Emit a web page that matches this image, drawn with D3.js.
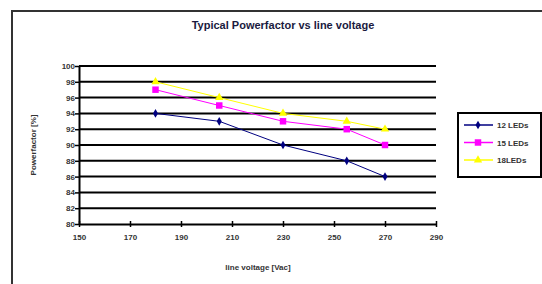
<!DOCTYPE html>
<html>
<head>
<meta charset="utf-8">
<script src="https://cdn.jsdelivr.net/npm/d3@7"></script>
<style>
  body { margin: 0; background: #fff; }
  svg { display: block; font-family: "Liberation Sans", Arial, sans-serif; }
</style>
</head>
<body>
<svg id="chart" width="542" height="284"></svg>
<script>
const voltages = [180, 205, 230, 255, 270];
const leds12 = [94, 93, 90, 88, 86];
const leds15 = [97, 95, 93, 92, 90];
const leds18 = [98, 96, 94, 93, 92];
const seriesNames = ['12 LEDs', '15 LEDs', '18LEDs'];
const xTicks = [150, 170, 190, 210, 230, 250, 270, 290];
const yTicks = [80, 82, 84, 86, 88, 90, 92, 94, 96, 98, 100];

const series = [
    { name: seriesNames[0], values: leds12, color: '#000080', symbol: d3.symbolDiamond, size: 22 },
    { name: seriesNames[1], values: leds15, color: '#FF00FF', symbol: d3.symbolSquare, size: 42 },
    { name: seriesNames[2], values: leds18, color: '#FFFF00', symbol: d3.symbolTriangle, size: 30 },
];

const translate = (x, y) => `translate(${x}, ${y})`;
const svg = d3.select('#chart');
const margins = { left: 79, right: 436, top: 66, bottom: 224 };

// outer frame
svg.append('rect')
    .attr('x', 12).attr('y', 11)
    .attr('width', 560).attr('height', 300)
    .attr('fill', 'none').attr('stroke', '#333').attr('stroke-width', 2);

const x = d3.scaleLinear().domain([150, 290]).range([margins.left, margins.right]);
const y = d3.scaleLinear().domain([80, 100]).range([margins.bottom, margins.top]);

// title
svg.append('text')
    .attr('x', 283).attr('y', 29)
    .attr('text-anchor', 'middle')
    .attr('font-size', 11).attr('font-weight', 'bold')
    .attr('fill', '#1a1a40')
    .text('Typical Powerfactor vs line voltage');

// gridlines
svg.append('g')
    .selectAll('line')
    .data(yTicks.slice(1))
    .enter()
    .append('line')
    .attr('x1', margins.left).attr('x2', margins.right)
    .attr('y1', d => y(d)).attr('y2', d => y(d))
    .attr('stroke', '#000').attr('stroke-width', 2);

// y axis
const yAxis = svg.append('g')
    .attr('transform', translate(margins.left, 0))
    .call(d3.axisLeft(y).tickValues(yTicks).tickSize(4).tickSizeOuter(0));
yAxis.select('.domain').attr('stroke', '#000').attr('stroke-width', 2);
yAxis.selectAll('.tick line').attr('stroke', '#000').attr('stroke-width', 1.5);
yAxis.selectAll('.tick text')
    .attr('font-size', 8).attr('font-family', '"Liberation Sans", Arial, sans-serif')
    .attr('font-weight', 'bold').attr('fill', '#333').attr('x', -4);

// x axis
const xAxis = svg.append('g')
    .attr('transform', translate(0, margins.bottom))
    .call(d3.axisBottom(x).tickValues(xTicks).tickSize(3).tickSizeOuter(0));
xAxis.select('.domain').attr('stroke', '#000').attr('stroke-width', 2);
xAxis.selectAll('.tick line').attr('stroke', '#000').attr('stroke-width', 1.5).attr('y1', -3);
xAxis.selectAll('.tick text')
    .attr('font-size', 8).attr('font-family', '"Liberation Sans", Arial, sans-serif')
    .attr('font-weight', 'bold').attr('fill', '#333').attr('y', 10);

// axis titles
svg.append('text')
    .attr('transform', `${translate(36, 145)} rotate(-90)`)
    .attr('text-anchor', 'middle')
    .attr('font-size', 8).attr('font-weight', 'bold').attr('fill', '#333')
    .text('Powerfactor [%]');

svg.append('text')
    .attr('x', 258).attr('y', 270)
    .attr('text-anchor', 'middle')
    .attr('font-size', 8).attr('font-weight', 'bold').attr('fill', '#333')
    .text('line voltage [Vac]');

// series
const line = d3.line().x((d, i) => x(voltages[i])).y(d => y(d));
series.forEach(s => {
    svg.append('path')
        .datum(s.values)
        .attr('d', line)
        .attr('fill', 'none')
        .attr('stroke', s.color)
        .attr('stroke-width', 1);
    svg.append('g')
        .selectAll('path')
        .data(s.values)
        .enter()
        .append('path')
        .attr('transform', (d, i) => translate(x(voltages[i]), y(d)))
        .attr('d', d3.symbol().type(s.symbol).size(s.size))
        .attr('fill', s.color);
});

// legend
const legend = svg.append('g').attr('transform', translate(458, 113));
legend.append('rect')
    .attr('x', 0).attr('y', 0).attr('width', 83).attr('height', 64)
    .attr('fill', '#fff').attr('stroke', '#000').attr('stroke-width', 2);
series.forEach((s, i) => {
    const ly = 12 + i * 17.5;
    legend.append('line')
        .attr('x1', 6).attr('x2', 35).attr('y1', ly).attr('y2', ly)
        .attr('stroke', s.color).attr('stroke-width', 1.5);
    legend.append('path')
        .attr('transform', translate(20, ly))
        .attr('d', d3.symbol().type(s.symbol).size(s.size))
        .attr('fill', s.color);
    legend.append('text')
        .attr('x', 39).attr('y', ly + 3)
        .attr('font-size', 8).attr('font-weight', 'bold').attr('fill', '#333')
        .text(s.name);
});
</script>
</body>
</html>
